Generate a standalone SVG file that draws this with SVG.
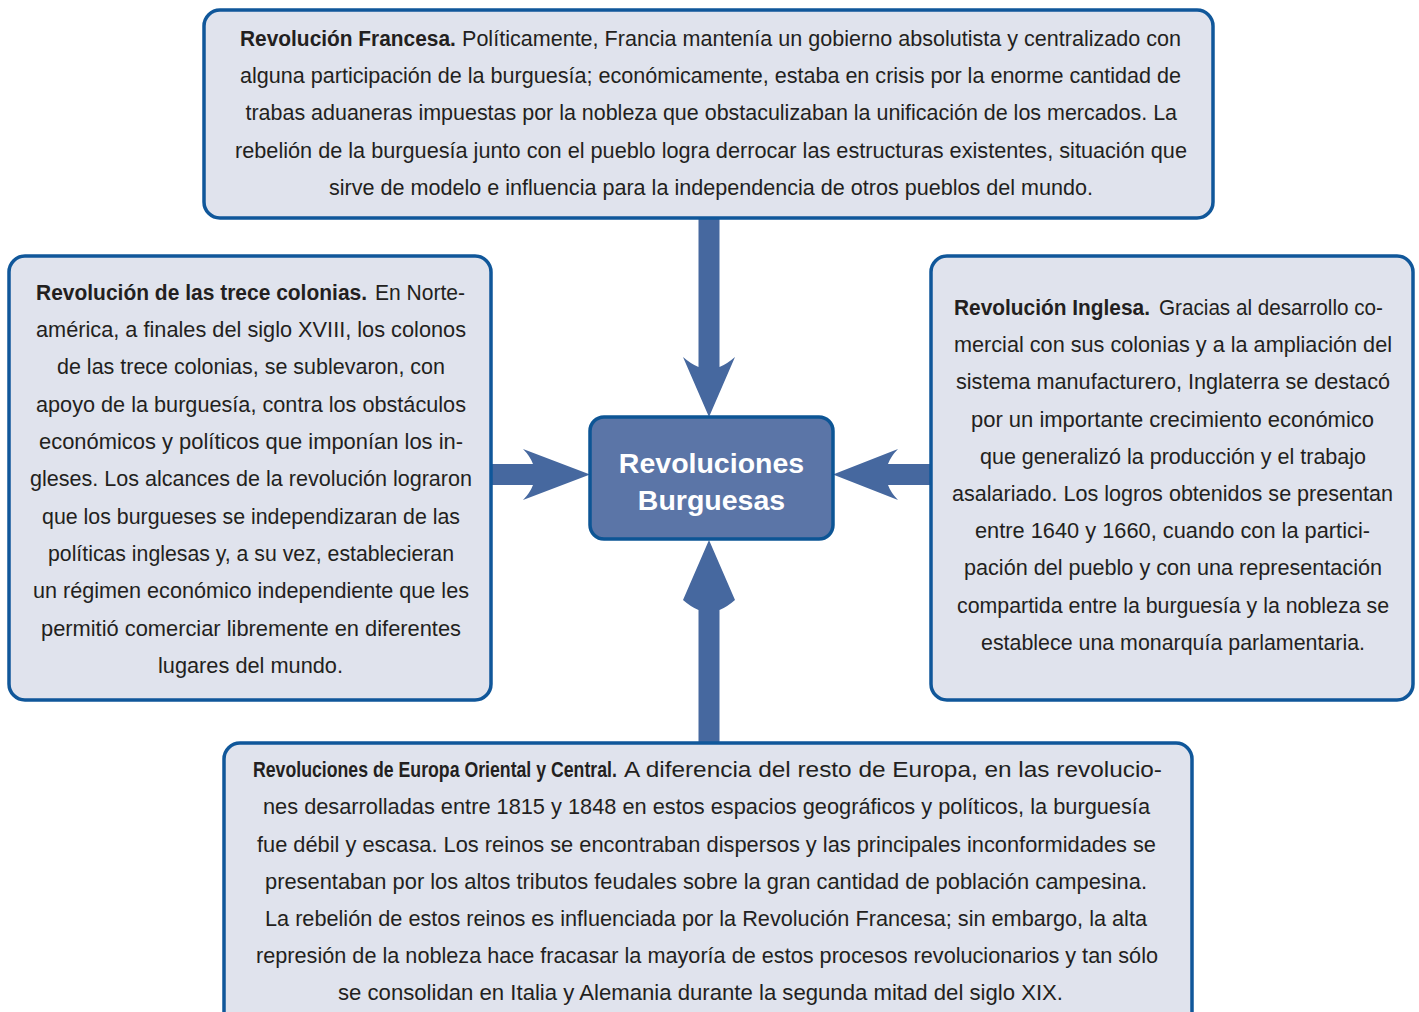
<svg xmlns="http://www.w3.org/2000/svg" width="1419" height="1012" viewBox="0 0 1419 1012">
<style>
.box{fill:#e0e3ed;stroke:#10579a;stroke-width:3.5}
.center{fill:#5b75a7;stroke:#0d5595;stroke-width:3.5}
.arrow{fill:#46689f;stroke:none}
.t{font-family:"Liberation Sans",Arial,sans-serif;font-size:22px;fill:#231f20}
.b{font-weight:bold}
.ct{font-family:"Liberation Sans",Arial,sans-serif;font-size:28.5px;font-weight:bold;fill:#ffffff;text-anchor:middle}
</style>
<rect width="1419" height="1012" fill="#ffffff"/>
<g id="connectors">
<path class="arrow" d="M698.5,216 L698.5,367 Q691,364 683,357 L709,417 L735,357 Q727,364 719.5,367 L719.5,216 Z"/>
<path class="arrow" d="M698.5,745 L698.5,610 Q691,607 683,600 L709,540 L735,600 Q727,607 719.5,610 L719.5,745 Z"/>
<path class="arrow" d="M489,464 L533,464 Q530,456 523,449 L590,474.5 L523,500 Q530,493 533,485 L489,485 Z"/>
<path class="arrow" d="M933,464 L888,464 Q891,456 898,449 L833,474.5 L898,500 Q891,493 888,485 L933,485 Z"/>
</g>
<g id="francesa">
<rect class="box" x="204" y="10" width="1009" height="208" rx="16"/>
<text class="t b" transform="translate(240,46) scale(0.951,1)" x="0" y="0" textLength="227" lengthAdjust="spacingAndGlyphs">Revolución Francesa.</text>
<text class="t" x="462" y="46" textLength="719" lengthAdjust="spacingAndGlyphs">Políticamente, Francia mantenía un gobierno absolutista y centralizado con</text>
<text class="t" x="240" y="83.2" textLength="941" lengthAdjust="spacingAndGlyphs">alguna participación de la burguesía; económicamente, estaba en crisis por la enorme cantidad de</text>
<text class="t" x="245.5" y="120.4" textLength="931.5" lengthAdjust="spacingAndGlyphs">trabas aduaneras impuestas por la nobleza que obstaculizaban la unificación de los mercados. La</text>
<text class="t" x="235" y="157.6" textLength="952" lengthAdjust="spacingAndGlyphs">rebelión de la burguesía junto con el pueblo logra derrocar las estructuras existentes, situación que</text>
<text class="t" x="329" y="194.8" textLength="764" lengthAdjust="spacingAndGlyphs">sirve de modelo e influencia para la independencia de otros pueblos del mundo.</text>
</g>
<g id="trece-colonias">
<rect class="box" x="9" y="256" width="482" height="444" rx="16"/>
<text class="t b" transform="translate(36,299.5) scale(0.954,1)" x="0" y="0" textLength="347" lengthAdjust="spacingAndGlyphs">Revolución de las trece colonias.</text>
<text class="t" x="375" y="299.5" textLength="90" lengthAdjust="spacingAndGlyphs">En Norte-</text>
<text class="t" x="36" y="336.8" textLength="430" lengthAdjust="spacingAndGlyphs">américa, a finales del siglo XVIII, los colonos</text>
<text class="t" x="57" y="374.2" textLength="388" lengthAdjust="spacingAndGlyphs">de las trece colonias, se sublevaron, con</text>
<text class="t" x="36" y="411.5" textLength="430" lengthAdjust="spacingAndGlyphs">apoyo de la burguesía, contra los obstáculos</text>
<text class="t" x="39" y="448.9" textLength="424" lengthAdjust="spacingAndGlyphs">económicos y políticos que imponían los in-</text>
<text class="t" x="30" y="486.2" textLength="442" lengthAdjust="spacingAndGlyphs">gleses. Los alcances de la revolución lograron</text>
<text class="t" x="42" y="523.5" textLength="418" lengthAdjust="spacingAndGlyphs">que los burgueses se independizaran de las</text>
<text class="t" x="48" y="560.9" textLength="406" lengthAdjust="spacingAndGlyphs">políticas inglesas y, a su vez, establecieran</text>
<text class="t" x="33" y="598.2" textLength="436" lengthAdjust="spacingAndGlyphs">un régimen económico independiente que les</text>
<text class="t" x="41" y="635.6" textLength="420" lengthAdjust="spacingAndGlyphs">permitió comerciar libremente en diferentes</text>
<text class="t" x="158" y="672.9" textLength="185" lengthAdjust="spacingAndGlyphs">lugares del mundo.</text>
</g>
<g id="inglesa">
<rect class="box" x="931" y="256" width="482" height="444" rx="16"/>
<text class="t b" transform="translate(954,315) scale(0.949,1)" x="0" y="0" textLength="206.5" lengthAdjust="spacingAndGlyphs">Revolución Inglesa.</text>
<text class="t" x="1159" y="315" textLength="224" lengthAdjust="spacingAndGlyphs">Gracias al desarrollo co-</text>
<text class="t" x="954" y="352.2" textLength="438" lengthAdjust="spacingAndGlyphs">mercial con sus colonias y a la ampliación del</text>
<text class="t" x="956" y="389.4" textLength="434" lengthAdjust="spacingAndGlyphs">sistema manufacturero, Inglaterra se destacó</text>
<text class="t" x="971" y="426.6" textLength="403" lengthAdjust="spacingAndGlyphs">por un importante crecimiento económico</text>
<text class="t" x="980" y="463.8" textLength="386" lengthAdjust="spacingAndGlyphs">que generalizó la producción y el trabajo</text>
<text class="t" x="952" y="501" textLength="441" lengthAdjust="spacingAndGlyphs">asalariado. Los logros obtenidos se presentan</text>
<text class="t" x="975" y="538.2" textLength="395" lengthAdjust="spacingAndGlyphs">entre 1640 y 1660, cuando con la partici-</text>
<text class="t" x="964" y="575.4" textLength="418" lengthAdjust="spacingAndGlyphs">pación del pueblo y con una representación</text>
<text class="t" x="957" y="612.6" textLength="432" lengthAdjust="spacingAndGlyphs">compartida entre la burguesía y la nobleza se</text>
<text class="t" x="981" y="649.8" textLength="384" lengthAdjust="spacingAndGlyphs">establece una monarquía parlamentaria.</text>
</g>
<g id="europa">
<rect class="box" x="224" y="743" width="968" height="290" rx="16"/>
<text class="t b" transform="translate(253,777.3) scale(0.805,1)" x="0" y="0" textLength="452" lengthAdjust="spacingAndGlyphs">Revoluciones de Europa Oriental y Central.</text>
<text class="t" x="624" y="777.3" textLength="538" lengthAdjust="spacingAndGlyphs">A diferencia del resto de Europa, en las revolucio-</text>
<text class="t" x="263" y="814.4" textLength="887" lengthAdjust="spacingAndGlyphs">nes desarrolladas entre 1815 y 1848 en estos espacios geográficos y políticos, la burguesía</text>
<text class="t" x="257" y="851.5" textLength="899" lengthAdjust="spacingAndGlyphs">fue débil y escasa. Los reinos se encontraban dispersos y las principales inconformidades se</text>
<text class="t" x="265" y="888.6" textLength="882" lengthAdjust="spacingAndGlyphs">presentaban por los altos tributos feudales sobre la gran cantidad de población campesina.</text>
<text class="t" x="265" y="925.7" textLength="882" lengthAdjust="spacingAndGlyphs">La rebelión de estos reinos es influenciada por la Revolución Francesa; sin embargo, la alta</text>
<text class="t" x="256" y="962.8" textLength="902" lengthAdjust="spacingAndGlyphs">represión de la nobleza hace fracasar la mayoría de estos procesos revolucionarios y tan sólo</text>
<text class="t" x="338" y="999.9" textLength="725" lengthAdjust="spacingAndGlyphs">se consolidan en Italia y Alemania durante la segunda mitad del siglo XIX.</text>
</g>
<g id="revoluciones-burguesas">
<rect class="center" x="590" y="417" width="243" height="122" rx="14"/>
<text class="ct" x="711.5" y="472.5">Revoluciones</text>
<text class="ct" x="711.5" y="510">Burguesas</text>
</g>
</svg>
